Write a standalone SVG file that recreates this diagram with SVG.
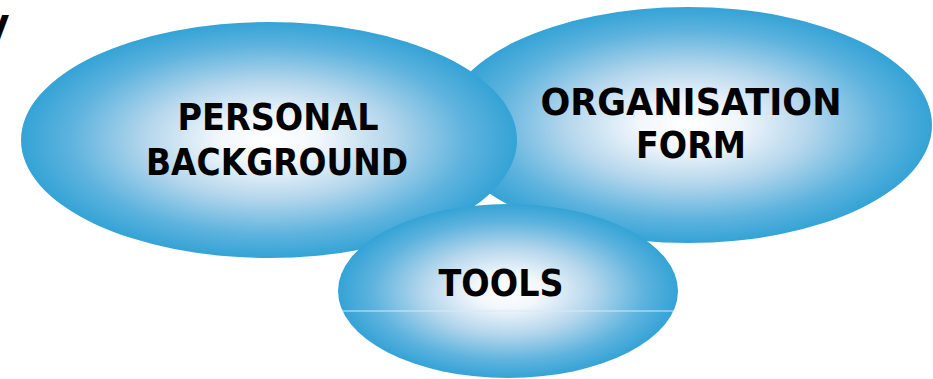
<svg xmlns="http://www.w3.org/2000/svg" width="933" height="379" viewBox="0 0 933 379">
<style>
.lbl{font-family:"DejaVu Sans","Verdana",sans-serif;font-weight:bold;font-size:37px;fill:#000;text-anchor:middle}
</style>
<defs>
<radialGradient id="g" cx="0.5" cy="0.5" r="0.5">
<stop offset="0" stop-color="#ffffff"/>
<stop offset="0.2" stop-color="#f2f7fc"/>
<stop offset="0.5" stop-color="#b4d6ec"/>
<stop offset="0.8" stop-color="#5eb3de"/>
<stop offset="1" stop-color="#34a3d6"/>
</radialGradient>
</defs>
<text x="9" y="41" style="font-family:'DejaVu Sans',sans-serif;font-weight:bold;font-size:36px;text-anchor:end">V</text>
<g id="organisation">
<ellipse cx="688" cy="125" rx="244" ry="118" fill="url(#g)"/>
<text class="lbl" x="691" y="115" textLength="301" lengthAdjust="spacingAndGlyphs">ORGANISATION</text>
<text class="lbl" x="691" y="158" textLength="110" lengthAdjust="spacingAndGlyphs">FORM</text>
</g>
<g id="personal">
<ellipse cx="269" cy="140" rx="248" ry="118" fill="url(#g)"/>
<text class="lbl" x="278" y="130" textLength="201" lengthAdjust="spacingAndGlyphs">PERSONAL</text>
<text class="lbl" x="277" y="175" textLength="262" lengthAdjust="spacingAndGlyphs">BACKGROUND</text>
</g>
<g id="tools">
<ellipse cx="508" cy="291" rx="170" ry="87" fill="url(#g)"/>
<line x1="341" y1="311" x2="674" y2="311" stroke="#d6e9f5" stroke-width="1"/>
<text class="lbl" x="501" y="296" textLength="125" lengthAdjust="spacingAndGlyphs">TOOLS</text>
</g>
<g id="connectors"></g>
</svg>
